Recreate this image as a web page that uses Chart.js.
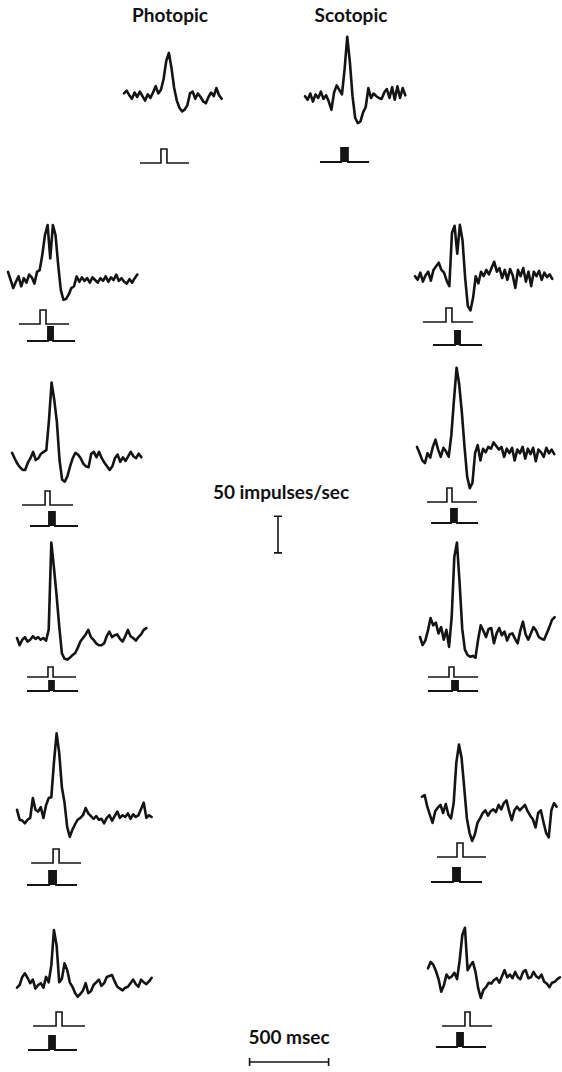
<!DOCTYPE html>
<html>
<head>
<meta charset="utf-8">
<script src="https://cdn.jsdelivr.net/npm/chart.js@4.4.1/dist/chart.umd.min.js"></script>
<style>
  body { margin: 0; background: #fff; }
  #page { position: relative; width: 562px; height: 1072px; overflow: hidden; }
  #page canvas { position: absolute; }
  .lbl { position: absolute; font-family: 'Lato', 'DejaVu Sans', sans-serif; font-weight: 700;
         font-size: 19px; line-height: 22px; color: #111; white-space: nowrap; transform: translateX(-50%); }
</style>
</head>
<body>
<div id="page">
  <div class="lbl" style="left:170px; top:4px;">Photopic</div>
  <div class="lbl" style="left:351px; top:4px;">Scotopic</div>
  <div class="lbl" style="left:281px; top:481px;">50 impulses/sec</div>
  <div class="lbl" style="left:289px; top:1026px;">500 msec</div>
</div>
<script>
// scale of the figure: 500 msec = 88 px, 50 impulses/sec = 45 px
const PX_PER_MS = 88 / 500;
const PX_PER_IMP = 45 / 50;
const BIN_MS = 15;      // one rate value every 15 msec
const REF_RATE = 40;    // rate that sits on each panel's resting line
const PULSE_H = 14;     // stimulus pulse height in px

const rateBar = 50;     // impulses/sec
const timeBar = 500;    // msec

// firing rate (impulses/sec)
const topPhotopic = [44, 47, 42, 38, 45, 40, 46, 41, 36, 43, 39, 45, 52, 44, 48, 60, 80, 89, 72, 50,
  36, 28, 24, 26, 31, 44, 46, 38, 44, 40, 35, 33, 40, 45, 41, 50, 42, 38];
const topScotopic = [42, 38, 45, 36, 44, 40, 47, 39, 43, 36, 27, 46, 54, 49, 44, 72, 108, 80, 42, 18,
  12, 14, 24, 30, 51, 40, 45, 42, 40, 39, 46, 50, 40, 52, 38, 53, 40, 51, 43];

const left1 = [49, 40, 31, 38, 44, 33, 42, 37, 46, 43, 36, 49, 51, 68, 90, 101, 64, 101, 90, 57,
  29, 18, 19, 24, 31, 33, 44, 38, 43, 39, 42, 37, 43, 40, 37, 42, 39, 44, 38, 43,
  40, 46, 39, 42, 38, 36, 41, 37, 42, 46];
const right1 = [42, 38, 46, 36, 43, 47, 37, 49, 53, 57, 49, 46, 37, 31, 90, 98, 67, 99, 82, 40,
  9, 4, 18, 42, 34, 47, 42, 49, 44, 51, 58, 47, 51, 40, 49, 38, 50, 43, 29, 49,
  42, 51, 36, 47, 31, 47, 42, 48, 38, 46, 41, 44, 39];

const left2 = [48, 42, 36, 32, 29, 29, 37, 42, 49, 40, 42, 47, 49, 51, 84, 126, 107, 82, 40, 18,
  16, 22, 33, 42, 48, 46, 42, 36, 33, 32, 47, 49, 43, 49, 42, 37, 33, 29, 33, 42,
  46, 38, 43, 39, 44, 49, 44, 42, 47, 43];
const right2 = [49, 42, 34, 31, 42, 37, 49, 57, 46, 38, 48, 44, 38, 62, 101, 137, 118, 87, 49, 16,
  3, 9, 42, 51, 34, 47, 43, 49, 47, 54, 50, 46, 49, 38, 47, 42, 48, 34, 46, 42,
  49, 36, 47, 41, 48, 33, 46, 43, 38, 48, 42, 46, 41];

const left3 = [40, 32, 38, 41, 36, 38, 42, 39, 41, 38, 40, 37, 49, 146, 118, 87, 53, 23, 17, 16,
  18, 21, 23, 29, 36, 40, 44, 49, 41, 38, 34, 32, 32, 34, 42, 47, 41, 43, 44, 39,
  36, 42, 49, 42, 40, 37, 41, 44, 49, 51];
const right3 = [40, 31, 36, 47, 61, 53, 56, 44, 51, 37, 48, 29, 62, 129, 145, 100, 49, 26, 20, 18,
  19, 17, 37, 53, 47, 40, 49, 50, 33, 44, 50, 42, 46, 36, 43, 44, 38, 33, 47, 57,
  43, 37, 44, 51, 47, 40, 38, 37, 44, 51, 59, 62];

const left4 = [48, 37, 36, 33, 37, 39, 61, 48, 46, 51, 39, 53, 61, 62, 101, 133, 111, 73, 56, 29,
  18, 26, 32, 37, 39, 42, 50, 44, 41, 38, 41, 37, 38, 33, 39, 42, 36, 41, 46, 39,
  42, 40, 44, 38, 43, 40, 42, 49, 56, 39, 42, 40];
const right4 = [58, 60, 47, 38, 29, 42, 46, 49, 40, 50, 38, 34, 51, 96, 116, 101, 68, 34, 18, 9,
  16, 29, 34, 40, 43, 37, 42, 44, 41, 49, 44, 51, 54, 42, 32, 43, 47, 43, 46, 49,
  42, 37, 33, 24, 40, 43, 30, 18, 13, 43, 51, 47];

const left5 = [37, 40, 49, 53, 48, 42, 46, 36, 40, 42, 37, 49, 43, 62, 101, 84, 43, 47, 64, 57,
  43, 38, 31, 27, 30, 34, 42, 31, 33, 40, 43, 46, 39, 42, 49, 50, 51, 44, 38, 36,
  34, 37, 38, 42, 46, 41, 38, 46, 43, 41, 44, 48];
const right5 = [53, 60, 57, 50, 41, 27, 34, 46, 42, 44, 48, 41, 62, 90, 98, 51, 56, 60, 49, 31,
  20, 29, 32, 37, 36, 40, 42, 37, 44, 51, 43, 46, 42, 49, 43, 41, 49, 51, 42, 43,
  49, 44, 42, 46, 38, 36, 32, 37, 38, 41, 43];

// stimulus markers, msec from trace start: [line start, onset, offset, line end]
const stimTopPhotopic = [91, 210, 244, 369];
const stimTopScotopic = [85, 205, 244, 364];
const stimL1 = { photopic: [62, 182, 216, 347], scotopic: [108, 227, 256, 381] };
const stimR1 = { photopic: [45, 176, 210, 330], scotopic: [102, 227, 256, 381] };
const stimL2 = { photopic: [57, 188, 216, 347], scotopic: [102, 210, 244, 375] };
const stimR2 = { photopic: [57, 170, 199, 341], scotopic: [80, 193, 227, 347] };
const stimL3 = { photopic: [57, 176, 205, 335], scotopic: [57, 182, 210, 347] };
const stimR3 = { photopic: [45, 165, 193, 330], scotopic: [45, 182, 216, 330] };
const stimL4 = { photopic: [80, 205, 239, 364], scotopic: [57, 182, 222, 341] };
const stimR4 = { photopic: [85, 199, 233, 364], scotopic: [51, 176, 216, 341] };
const stimL5 = { photopic: [91, 222, 256, 386], scotopic: [63, 182, 216, 341] };
const stimR5 = { photopic: [80, 210, 239, 364], scotopic: [45, 165, 199, 330] };

// where each panel sits: x = trace start, y = resting line, oy/fy = stimulus lines,
// ph = pulse height where the two markers sit close together
const panels = [
  { trace: topPhotopic, open: stimTopPhotopic, x: 124, y: 97, oy: 163 },
  { trace: topScotopic, filled: stimTopScotopic, x: 305, y: 98, fy: 162 },
  { trace: left1, open: stimL1.photopic, filled: stimL1.scotopic, x: 8, y: 280, oy: 324, fy: 341 },
  { trace: right1, open: stimR1.photopic, filled: stimR1.scotopic, x: 415, y: 278, oy: 322, fy: 345 },
  { trace: left2, open: stimL2.photopic, filled: stimL2.scotopic, x: 12, y: 460, oy: 505, fy: 526 },
  { trace: right2, open: stimR2.photopic, filled: stimR2.scotopic, x: 417, y: 455, oy: 502, fy: 523 },
  { trace: left3, open: stimL3.photopic, filled: stimL3.scotopic, x: 17, y: 638, oy: 677, fy: 691, ph: 10 },
  { trace: right3, open: stimR3.photopic, filled: stimR3.scotopic, x: 420, y: 637, oy: 677, fy: 691, ph: 10 },
  { trace: left4, open: stimL4.photopic, filled: stimL4.scotopic, x: 17, y: 817, oy: 863, fy: 885 },
  { trace: right4, open: stimR4.photopic, filled: stimR4.scotopic, x: 422, y: 813, oy: 857, fy: 882 },
  { trace: left5, open: stimL5.photopic, filled: stimL5.scotopic, x: 17, y: 985, oy: 1026, fy: 1050 },
  { trace: right5, open: stimR5.photopic, filled: stimR5.scotopic, x: 428, y: 980, oy: 1026, fy: 1047 }
];

const INK = '#141414';
const page = document.getElementById('page');

function addCanvas(left, top, w, h) {
  const c = document.createElement('canvas');
  c.width = w; c.height = h;
  c.style.left = left + 'px'; c.style.top = top + 'px';
  page.appendChild(c);
  return c;
}

function pulse(s) {
  const [a, on, off, b] = s;
  return [{ x: a, y: 0 }, { x: on, y: 0 }, { x: on, y: 1 }, { x: off, y: 1 },
          { x: off, y: 0 }, { x: b, y: 0 }];
}

const baseOpts = {
  responsive: false,
  animation: false,
  events: [],
  layout: { padding: 0 },
  plugins: { legend: { display: false }, tooltip: { enabled: false } },
  elements: { point: { radius: 0 }, line: { tension: 0 } }
};

panels.forEach(p => {
  const left = p.x - 10;
  const right = Math.min(562, p.x + 160);
  const top = p.y - 110;
  const bottom = Math.max(p.oy || 0, p.fy || 0) + 6;
  const w = right - left, h = bottom - top;
  const ph = p.ph || PULSE_H;

  const datasets = [{
    data: p.trace.map((v, i) => ({ x: i * BIN_MS, y: v })),
    yAxisID: 'y',
    borderColor: INK,
    borderWidth: 2.6,
    borderJoinStyle: 'round',
    borderCapStyle: 'round'
  }];
  const scales = {
    x: { type: 'linear', display: false,
         min: (left - p.x) / PX_PER_MS, max: (right - p.x) / PX_PER_MS },
    y: { type: 'linear', display: false,
         min: REF_RATE - (bottom - p.y) / PX_PER_IMP, max: REF_RATE + (p.y - top) / PX_PER_IMP }
  };
  if (p.open) {
    datasets.push({ data: pulse(p.open), yAxisID: 'yo', borderColor: INK, borderWidth: 1.6 });
    scales.yo = { type: 'linear', display: false,
                  min: -(bottom - p.oy) / ph, max: (p.oy - top) / ph };
  }
  if (p.filled) {
    datasets.push({ data: pulse(p.filled), yAxisID: 'yf', borderColor: INK, borderWidth: 1.8,
                    fill: { value: 0 }, backgroundColor: INK });
    scales.yf = { type: 'linear', display: false,
                  min: -(bottom - p.fy) / ph, max: (p.fy - top) / ph };
  }

  new Chart(addCanvas(left, top, w, h), {
    type: 'line',
    data: { datasets },
    options: Object.assign({}, baseOpts, { scales })
  });
});

// 50 impulses/sec calibration bar
new Chart(addCanvas(268, 505, 20, 60), {
  type: 'line',
  data: { datasets: [{
    data: [{ x: 0, y: 0 }, { x: 0, y: rateBar }],
    borderColor: INK, borderWidth: 1.6,
    pointStyle: 'line', pointRadius: 4, pointBorderWidth: 1.6, pointBorderColor: INK, pointRotation: 0
  }] },
  options: Object.assign({}, baseOpts, { scales: {
    x: { type: 'linear', display: false, min: -10 / PX_PER_MS, max: 10 / PX_PER_MS },
    y: { type: 'linear', display: false, min: -8 / PX_PER_IMP, max: 52 / PX_PER_IMP }
  } })
});

// 500 msec calibration bar
new Chart(addCanvas(235, 1050, 110, 24), {
  type: 'line',
  data: { datasets: [{
    data: [{ x: 0, y: 0 }, { x: timeBar, y: 0 }],
    borderColor: INK, borderWidth: 1.6,
    pointStyle: 'line', pointRadius: 4, pointBorderWidth: 1.6, pointBorderColor: INK, pointRotation: 90
  }] },
  options: Object.assign({}, baseOpts, { scales: {
    x: { type: 'linear', display: false, min: -10 / PX_PER_MS, max: 100 / PX_PER_MS },
    y: { type: 'linear', display: false, min: -12 / PX_PER_IMP, max: 12 / PX_PER_IMP }
  } })
});
</script>
</body>
</html>
